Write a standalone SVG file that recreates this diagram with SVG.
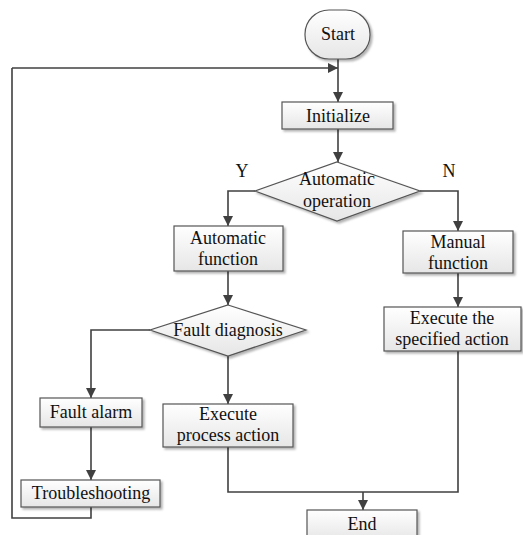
<svg xmlns="http://www.w3.org/2000/svg" width="523" height="535" viewBox="0 0 523 535" font-family="'Liberation Serif', serif">
<defs>
<linearGradient id="g" x1="0" y1="0" x2="0" y2="1">
<stop offset="0" stop-color="#ffffff"/>
<stop offset="1" stop-color="#e6e6e6"/>
</linearGradient>
<filter id="sh" x="-10%" y="-10%" width="130%" height="140%">
<feDropShadow dx="2" dy="2" stdDeviation="1" flood-color="#000" flood-opacity="0.3"/>
</filter>
<marker id="ar" viewBox="0 0 10 10" refX="10" refY="5" markerWidth="10" markerHeight="10" markerUnits="userSpaceOnUse" orient="auto">
<path d="M0,0 L10,5 L0,10 z" fill="#404040"/>
</marker>
</defs>
<style>
.n{fill:url(#g);stroke:#555;stroke-width:1.2;filter:url(#sh)}
.t{font-family:'Liberation Serif',serif;font-size:18px;fill:#111;text-anchor:middle}
.c{fill:none;stroke:#404040;stroke-width:1.6}
</style>
<rect width="523" height="535" fill="#fff"/>
<g id="connectors">
<path class="c" d="M338,59 V102" marker-end="url(#ar)"/>
<path class="c" d="M12,68 H338" marker-end="url(#ar)"/>
<path class="c" d="M338,129 V162" marker-end="url(#ar)"/>
<path class="c" d="M255,191 H228 V226" marker-end="url(#ar)"/>
<path class="c" d="M420,191 H458 V231" marker-end="url(#ar)"/>
<path class="c" d="M458,273 V307" marker-end="url(#ar)"/>
<path class="c" d="M228,271 V305" marker-end="url(#ar)"/>
<path class="c" d="M150,330 H91 V398" marker-end="url(#ar)"/>
<path class="c" d="M228,356 V404" marker-end="url(#ar)"/>
<path class="c" d="M91,427 V480" marker-end="url(#ar)"/>
<path class="c" d="M91,507 V518 H12 V68"/>
<path class="c" d="M458,351 V492 H228 V447"/>
<path class="c" d="M363,492 V510" marker-end="url(#ar)"/>
</g>
<g id="start">
<rect class="n" x="305" y="10" width="65" height="49" rx="24" ry="24"/>
<text class="t" x="338" y="40">Start</text>
</g>
<g id="initialize">
<rect class="n" x="282" y="102" width="111" height="27"/>
<text class="t" x="338" y="122">Initialize</text>
</g>
<g id="automatic-operation">
<polygon class="n" points="337,162 420,191 337,221 255,191"/>
<text class="t" x="337" y="185">Automatic</text>
<text class="t" x="337" y="207">operation</text>
</g>
<text class="t" x="242" y="177">Y</text>
<text class="t" x="449" y="177">N</text>
<g id="automatic-function">
<rect class="n" x="174" y="226" width="109" height="45"/>
<text class="t" x="228" y="244">Automatic</text>
<text class="t" x="228" y="265">function</text>
</g>
<g id="manual-function">
<rect class="n" x="403" y="231" width="110" height="42"/>
<text class="t" x="458" y="248">Manual</text>
<text class="t" x="458" y="269">function</text>
</g>
<g id="execute-specified">
<rect class="n" x="384" y="307" width="137" height="44"/>
<text class="t" x="452" y="324">Execute the</text>
<text class="t" x="452" y="345">specified action</text>
</g>
<g id="fault-diagnosis">
<polygon class="n" points="228,305 306,330 228,356 150,330"/>
<text class="t" x="228" y="336">Fault diagnosis</text>
</g>
<g id="fault-alarm">
<rect class="n" x="40" y="398" width="102" height="29"/>
<text class="t" x="91" y="418">Fault alarm</text>
</g>
<g id="execute-process">
<rect class="n" x="163" y="404" width="130" height="43"/>
<text class="t" x="228" y="420">Execute</text>
<text class="t" x="228" y="441">process action</text>
</g>
<g id="troubleshooting">
<rect class="n" x="21" y="480" width="139" height="27"/>
<text class="t" x="91" y="499">Troubleshooting</text>
</g>
<g id="end">
<rect class="n" x="307" y="510" width="110" height="30"/>
<text class="t" x="362" y="530">End</text>
</g>
</svg>
